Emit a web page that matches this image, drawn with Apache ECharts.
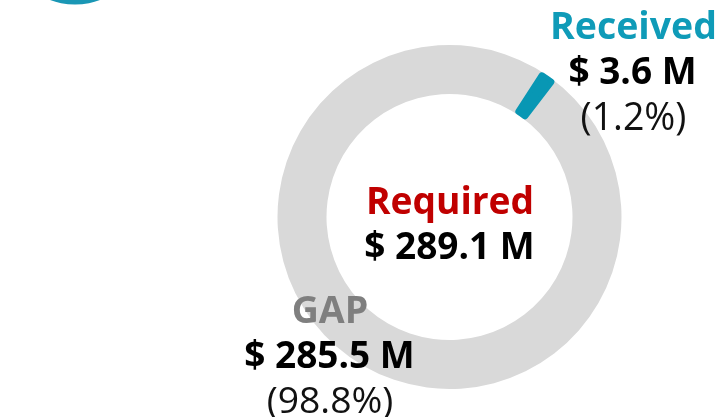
<!DOCTYPE html>
<html><head><meta charset="utf-8">
<style>html,body{margin:0;padding:0;background:#fff}#c{width:715px;height:417px}</style>
<script src="https://cdn.jsdelivr.net/npm/echarts@6/dist/echarts.min.js"></script></head>
<body><div id="c"></div>
<script>
const categories = ['Received','GAP'];
const values = [3.6,285.5];
const valueLabels = ['$ 3.6 M','$ 285.5 M'];
const shareLabels = ['(1.2%)','(98.8%)'];
const totalTitle = 'Required';
const totalValue = '$ 289.1 M';
const colors = ['#0F9BB8','#D9D9D9'];
const sliceColor = '#0897B4';
const F = '"Open Sans"';
const chart = echarts.init(document.getElementById('c'));
const t = (x,y,text,fill,weight,size) => ({type:'text',z:50,x,y,silent:true,style:{text,fill,font:weight+' '+size+'px '+F,align:'center',verticalAlign:'middle'}});
chart.setOption({
 animation:false,
 series:[
  {type:'pie',center:[449.5,217],radius:[123,172],startAngle:60,silent:true,label:{show:false},labelLine:{show:false},
   data:[{name:categories[1],value:values[0]+values[1],itemStyle:{color:colors[1]}}]},
  {type:'pie',center:[449.5,217],radius:[125,170],startAngle:57.2,clockwise:true,silent:true,label:{show:false},labelLine:{show:false},
   data:[{name:categories[0],value:values[0],itemStyle:{color:sliceColor,borderColor:sliceColor,borderWidth:4.5,borderJoin:'round',borderRadius:1}},{name:'',value:values[1],itemStyle:{color:'transparent'}}]}
 ],
 graphic:[
  t(633.5,28,categories[0],colors[0],700,37.5),
  t(632.5,73,valueLabels[0],'#000',700,37),
  t(633.5,119,shareLabels[0],'#111',400,37.5),
  t(450,203,totalTitle,'#C00000',700,37.2),
  t(449.5,248,totalValue,'#000',700,37),
  t(330,312,categories[1],'#7F7F7F',700,37.5),
  t(329.5,357,valueLabels[1],'#000',700,37),
  t(330,402,shareLabels[1],'#111',400,37.3),
  {type:'circle',shape:{cx:75,cy:-67,r:71.5},style:{fill:'#1A97B5'},silent:true}
 ]
});
</script></body></html>
